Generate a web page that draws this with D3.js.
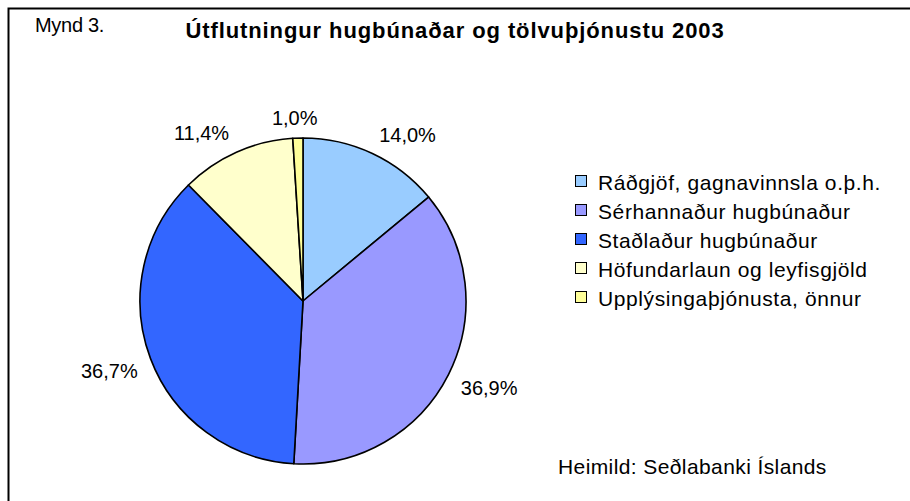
<!DOCTYPE html>
<html>
<head>
<meta charset="utf-8">
<script src="https://cdn.jsdelivr.net/npm/d3@7"></script>
<style>
  body { margin: 0; background: #fff; }
  text { font-family: Arial, "Liberation Sans", sans-serif; fill: #000; }
</style>
</head>
<body>
<div id="chart"></div>
<script>
// data
var categories = [
    "Ráðgjöf, gagnavinnsla o.þ.h.",
    "Sérhannaður hugbúnaður",
    "Staðlaður hugbúnaður",
    "Höfundarlaun og leyfisgjöld",
    "Upplýsingaþjónusta, önnur"
];
var shares = [14.0, 36.9, 36.7, 11.4, 1.0];
var colors = ["#99ccff", "#9999ff", "#3366ff", "#ffffcc", "#ffff99"];

function init() {
    const width = 910;
    const height = 501;
    const cx = 303, cy = 301, radius = 163;

    var svg = d3.select("#chart")
        .append("svg")
        .attr("width", width)
        .attr("height", height);

    // outer frame (runs off the right and bottom edge)
    svg.append("rect")
        .attr("x", 8.5).attr("y", 8.5)
        .attr("width", width).attr("height", height)
        .attr("fill", "none")
        .attr("stroke", "#000")
        .attr("stroke-width", 2);

    svg.append("text")
        .attr("x", 35).attr("y", 32)
        .style("font-size", "20px")
        .style("letter-spacing", "-0.3px")
        .text("Mynd 3.");

    svg.append("text")
        .attr("x", 455).attr("y", 38)
        .attr("text-anchor", "middle")
        .style("font-size", "22px")
        .style("font-weight", "bold")
        .style("letter-spacing", "0.9px")
        .text("Útflutningur hugbúnaðar og tölvuþjónustu 2003");

    var color = d3.scaleOrdinal().domain(categories).range(colors);

    var pie = d3.pie().sort(null).value(d => d.value);
    var arcs = pie(categories.map((c, i) => ({ name: c, value: shares[i] })));
    var arc = d3.arc().innerRadius(0).outerRadius(radius);

    var g = svg.append("g").attr("transform", `translate(${cx},${cy})`);

    g.selectAll("path")
        .data(arcs)
        .enter()
        .append("path")
        .attr("d", arc)
        .attr("fill", d => color(d.data.name))
        .attr("stroke", "#000")
        .attr("stroke-width", 1.6)
        .attr("stroke-linejoin", "round");

    // labels: box pushed out from the rim along the mid angle
    var fmt = v => v.toFixed(1).replace(".", ",") + "%";
    var gap = 12, hw = 30, hh = 8;
    g.selectAll("text.lbl")
        .data(arcs)
        .enter()
        .append("text")
        .attr("class", "lbl")
        .attr("text-anchor", "middle")
        .attr("dominant-baseline", "central")
        .style("font-size", "20px")
        .attr("x", d => {
            var a = (d.startAngle + d.endAngle) / 2;
            var s = Math.sin(a);
            return (radius + gap) * s + hw * Math.max(-1, Math.min(1, s * 3));
        })
        .attr("y", d => {
            var a = (d.startAngle + d.endAngle) / 2;
            var c = Math.cos(a);
            return -(radius + gap) * c - hh * Math.max(-1, Math.min(1, c * 3));
        })
        .text(d => fmt(d.value));

    // legend
    var legend = svg.append("g").attr("transform", "translate(575,181)");
    var rows = legend.selectAll("g")
        .data(categories)
        .enter()
        .append("g")
        .attr("transform", (d, i) => `translate(0,${i * 29})`);

    rows.append("rect")
        .attr("x", 0.5).attr("y", -5.5)
        .attr("width", 11).attr("height", 11)
        .attr("fill", d => color(d))
        .attr("stroke", "#000")
        .attr("stroke-width", 1);

    rows.append("text")
        .attr("x", 23).attr("y", 1)
        .attr("dominant-baseline", "central")
        .style("font-size", "21px")
        .style("letter-spacing", "0.6px")
        .text(d => d);

    svg.append("text")
        .attr("x", 558).attr("y", 474)
        .style("font-size", "21px")
        .style("letter-spacing", "0.4px")
        .text("Heimild: Seðlabanki Íslands");
}

init();
</script>
</body>
</html>
